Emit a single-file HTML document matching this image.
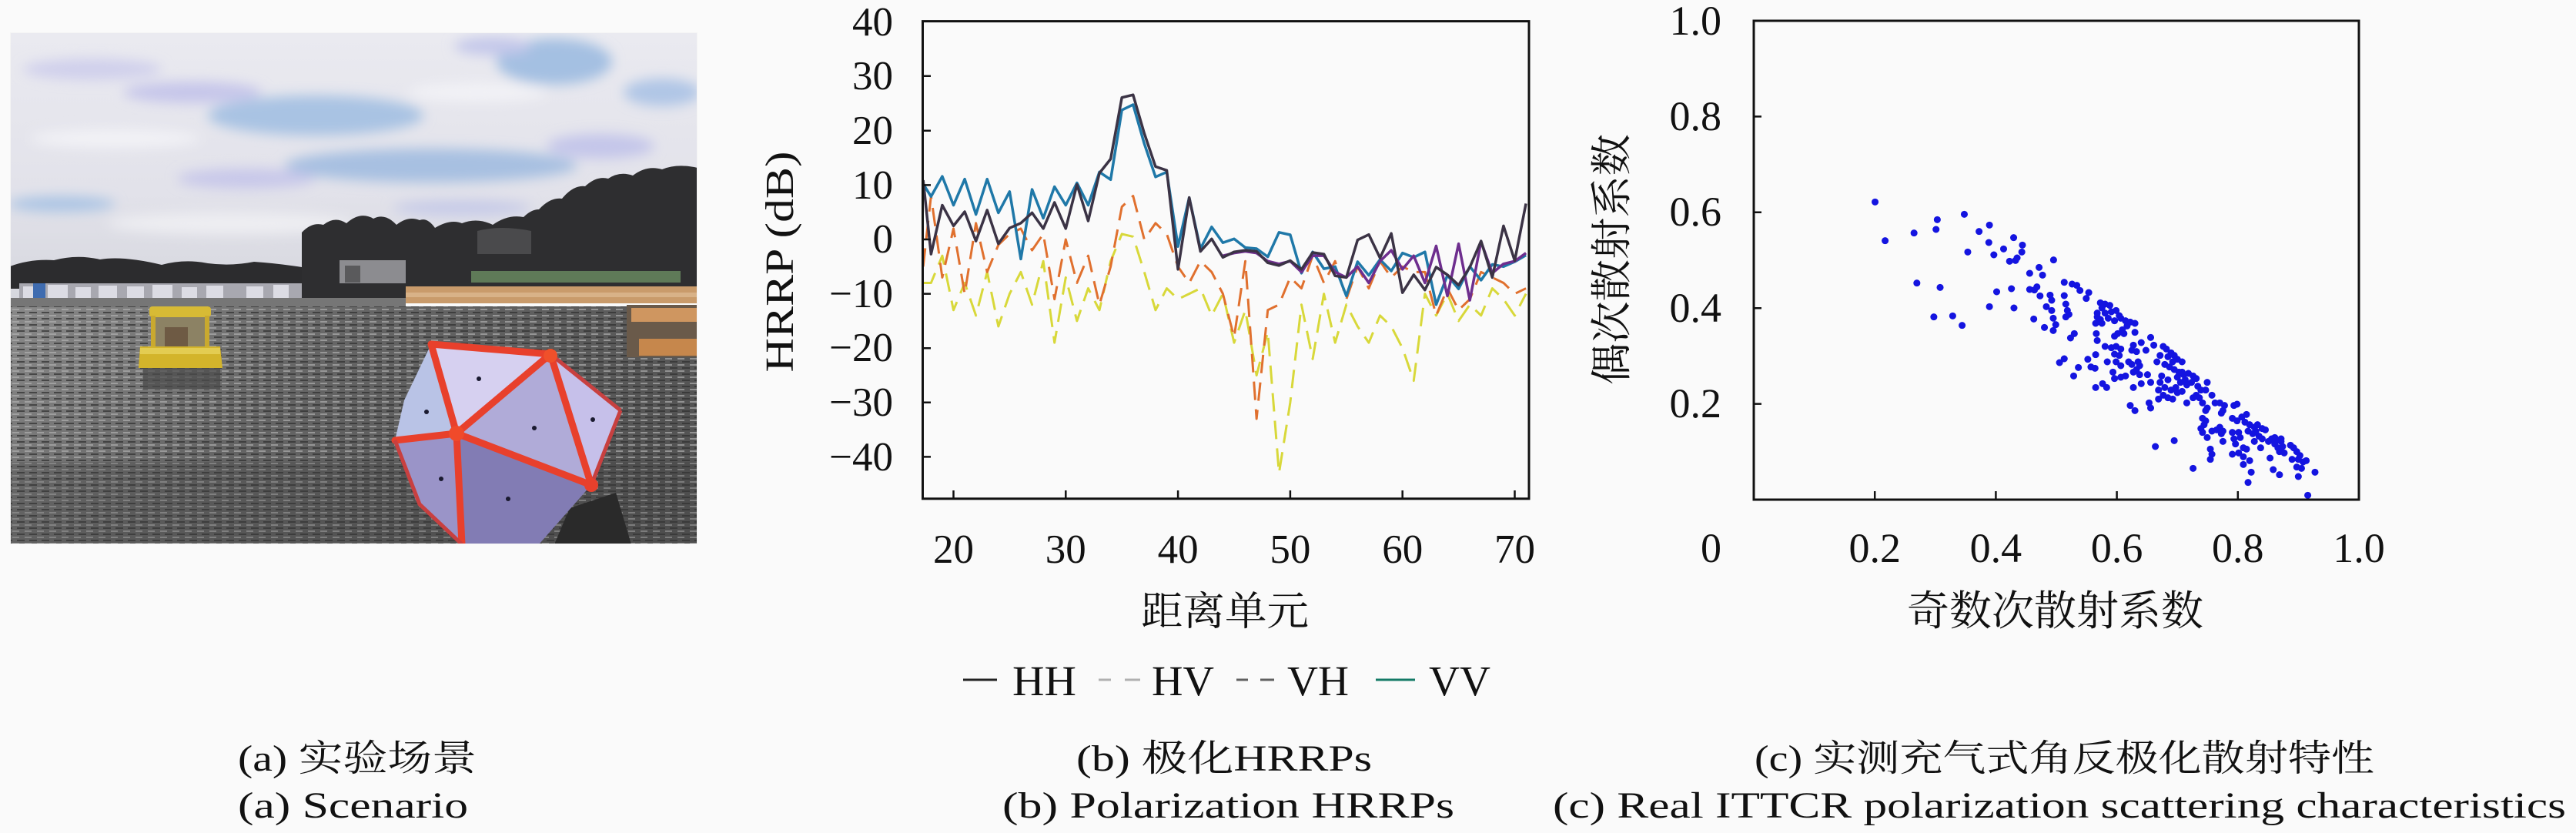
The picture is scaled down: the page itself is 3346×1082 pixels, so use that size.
<!DOCTYPE html>
<html>
<head>
<meta charset="utf-8">
<style>
html,body{margin:0;padding:0;background:#fafafa;}
body{width:3346px;height:1082px;overflow:hidden;}
svg{display:block;}
.t{font-family:"Liberation Serif","Noto Serif CJK SC",serif;fill:#111;}
</style>
</head>
<body>
<svg width="3346" height="1082" viewBox="0 0 3346 1082" xmlns="http://www.w3.org/2000/svg">
<defs>
  <clipPath id="photoClip"><rect x="13" y="42" width="893" height="665"/></clipPath>
  <clipPath id="plotClip"><rect x="1199" y="28" width="787" height="620"/></clipPath>
  <filter id="blur" x="-20%" y="-50%" width="140%" height="200%"><feGaussianBlur stdDeviation="8"/></filter>
  <filter id="blur2" x="-5%" y="-20%" width="110%" height="140%"><feGaussianBlur stdDeviation="2.5"/></filter>
  <linearGradient id="sky" x1="0" y1="0" x2="0" y2="1">
    <stop offset="0" stop-color="#eaeaf0"/>
    <stop offset="0.6" stop-color="#e2e2ea"/>
    <stop offset="1" stop-color="#d6d7de"/>
  </linearGradient>
  <linearGradient id="water" x1="0" y1="0" x2="1" y2="0.4">
    <stop offset="0" stop-color="#8a8a8a"/>
    <stop offset="0.45" stop-color="#666"/>
    <stop offset="1" stop-color="#545454"/>
  </linearGradient>
  <pattern id="rip" width="16" height="8" patternUnits="userSpaceOnUse">
    <path d="M0 2h9" stroke="#b4b4b4" stroke-width="1.6"/>
    <path d="M6 6h10" stroke="#303030" stroke-width="1.8"/>
  </pattern>
</defs>

<!-- ================= PHOTO ================= -->
<g clip-path="url(#photoClip)">
  <rect x="13" y="42" width="893" height="345" fill="url(#sky)"/>
  <g filter="url(#blur)">
    <ellipse cx="720" cy="80" rx="75" ry="30" fill="#a4c0e2"/>
    <ellipse cx="640" cy="60" rx="50" ry="12" fill="#c4c8ea"/>
    <ellipse cx="860" cy="120" rx="50" ry="18" fill="#b0c6e6"/>
    <ellipse cx="410" cy="150" rx="140" ry="26" fill="#a9c3e3"/>
    <ellipse cx="250" cy="120" rx="90" ry="14" fill="#c6c6ea"/>
    <ellipse cx="560" cy="215" rx="190" ry="22" fill="#a7c0e1"/>
    <ellipse cx="320" cy="232" rx="90" ry="13" fill="#c8c8ea"/>
    <ellipse cx="80" cy="265" rx="70" ry="10" fill="#aac4e4"/>
    <ellipse cx="780" cy="190" rx="70" ry="16" fill="#c4c6ea"/>
    <ellipse cx="150" cy="180" rx="110" ry="12" fill="#f2f2f6"/>
    <ellipse cx="620" cy="120" rx="90" ry="12" fill="#f2f2f6"/>
    <ellipse cx="300" cy="290" rx="160" ry="14" fill="#eeeef2"/>
    <ellipse cx="600" cy="270" rx="90" ry="10" fill="#c6cae8"/>
    <ellipse cx="120" cy="90" rx="90" ry="14" fill="#d0d0ec"/>
  </g>
  <!-- left hills -->
  <path d="M13,346 Q40,336 70,338 Q100,330 130,337 Q160,332 210,344 Q240,336 270,342 Q300,346 330,340 Q360,342 392,347 L392,375 L13,375 Z" fill="#2c2c2e"/>
  <!-- right trees -->
  <path d="M392,302 Q405,288 420,292 Q435,280 450,290 Q468,274 485,284 Q500,276 515,292 Q530,280 545,286 Q555,282 565,296 Q585,284 600,290 Q620,282 640,292 Q660,278 680,282 Q690,272 700,272 Q715,256 730,258 Q745,240 760,242 Q775,228 790,232 Q805,222 822,228 Q840,214 860,220 Q880,212 906,218 L906,390 L392,390 Z" fill="#2e2e30"/>
  <path d="M620,300 Q650,292 690,300 L690,330 L620,330 Z" fill="#4a4a4c"/>
  <rect x="441" y="338" width="86" height="30" fill="#8c8c90"/>
  <rect x="448" y="345" width="20" height="22" fill="#5a5a5c"/>
  <rect x="612" y="352" width="272" height="15" fill="#5f7a58"/>
  <!-- boats row left -->
  <rect x="25" y="368" width="367" height="30" fill="#a8a8b0"/>
  <g fill="#dcdce4">
    <rect x="30" y="372" width="22" height="16"/><rect x="62" y="370" width="26" height="18"/>
    <rect x="98" y="373" width="20" height="15"/><rect x="128" y="371" width="24" height="17"/>
    <rect x="165" y="372" width="22" height="16"/><rect x="198" y="370" width="26" height="18"/>
    <rect x="236" y="373" width="20" height="15"/><rect x="268" y="371" width="22" height="17"/>
    <rect x="320" y="372" width="22" height="16"/><rect x="355" y="370" width="20" height="18"/>
  </g>
  <rect x="43" y="368" width="16" height="28" fill="#3f6cb0"/>
  <rect x="25" y="392" width="367" height="6" fill="#4a4a4e"/>
  <!-- dock -->
  <rect x="527" y="372" width="379" height="22" fill="#c99b6b"/>
  <rect x="527" y="380" width="379" height="6" fill="#d8b288"/>
  <!-- water -->
  <rect x="13" y="398" width="893" height="309" fill="url(#water)"/>
  <rect x="13" y="387" width="514" height="12" fill="#767676"/>
  <rect x="13" y="398" width="893" height="309" fill="url(#rip)" opacity="0.8"/>
  <rect x="13" y="600" width="893" height="107" fill="#3a3a3a" opacity="0.25"/>
  <!-- right dock structure -->
  <rect x="814" y="396" width="92" height="68" fill="#6a5a4a"/>
  <rect x="820" y="400" width="86" height="18" fill="#cf9660"/>
  <rect x="830" y="440" width="76" height="22" fill="#c6874c"/>
  <!-- yellow boat -->
  <rect x="186" y="470" width="100" height="36" fill="#4a4a4a" opacity="0.7"/>
  <rect x="196" y="410" width="76" height="44" fill="#8c8264"/>
  <rect x="214" y="425" width="30" height="25" fill="#6e5a44"/>
  <rect x="194" y="398" width="80" height="14" rx="4" fill="#d7ba35"/>
  <rect x="196" y="410" width="6" height="42" fill="#c9a92e"/>
  <rect x="266" y="410" width="6" height="42" fill="#c9a92e"/>
  <path d="M182,450 L286,450 L289,478 L180,478 Z" fill="#d3b42b"/>
  <rect x="182" y="452" width="104" height="8" fill="#e3cc52"/>
  <!-- icosahedron -->
  <path d="M740,660 L800,640 L820,707 L720,707 Z" fill="#2a2a2a"/>
  <polygon points="560,447 715,460 593,563" fill="#d6d0f0"/>
  <polygon points="560,447 593,563 513,572 525,520" fill="#b9c3e6"/>
  <polygon points="715,460 768,630 593,563" fill="#b0abd8"/>
  <polygon points="715,460 806,533 768,630" fill="#c6c0ea"/>
  <polygon points="513,572 593,563 600,707 540,650" fill="#9a94c8"/>
  <polygon points="593,563 768,630 700,707 600,707" fill="#827cb4"/>
  <g stroke="#e8402c" stroke-width="9" stroke-linecap="round" fill="none">
    <path d="M560,447 L715,460"/>
    <path d="M560,447 L593,563"/>
    <path d="M715,460 L593,563"/>
    <path d="M513,572 L593,563"/>
    <path d="M593,563 L768,630"/>
    <path d="M715,460 L768,630"/>
    <path d="M593,563 L600,707"/>
  </g>
  <g stroke="#c84040" stroke-width="5" fill="none">
    <path d="M768,630 L806,533"/>
    <path d="M513,572 L545,655 L600,707"/>
    <path d="M715,460 L806,533"/>
  </g>
  <circle cx="593" cy="563" r="10" fill="#f04a2a"/>
  <circle cx="715" cy="462" r="9" fill="#f0502a"/>
  <circle cx="768" cy="630" r="9" fill="#e8402c"/>
  <g fill="#1a1a30">
    <circle cx="622" cy="492" r="3"/><circle cx="694" cy="556" r="3"/>
    <circle cx="554" cy="535" r="3"/><circle cx="770" cy="545" r="3"/>
    <circle cx="573" cy="622" r="3"/><circle cx="660" cy="648" r="3"/>
  </g>
  <rect x="13" y="42" width="893" height="665" fill="none" stroke="#f4f4f4" stroke-width="2"/>
</g>

<!-- ================= HRRP PLOT ================= -->
<g clip-path="url(#plotClip)">
  <g transform="translate(946.9,311) scale(14.58,-7.06)" fill="none" stroke-linejoin="round">
    <polyline vector-effect="non-scaling-stroke" stroke="#d8d83a" stroke-width="3" stroke-dasharray="24 12"
      points="17.3,-8 18,-8 19,-3 20,-13 21,-8 22,-14 23,-6 24,-16 25,-10 26,-6 27,-12 28,-4 29,-19 30,-7 31,-15 32,-9 33,-13 34,-4 35,1 36,0.5 37,-6 38,-13 39,-9 40,-11 41,-10 42,-9 43,-14 44,-10 45,-19 46,-13 47,-25 48,-17 49,-43 50,-30 51,-12 52,-22 53,-10 54,-19 55,-12 56,-16 57,-19 58,-14 59,-16 60,-20 61,-26 62,-10 63,-14 64,-10 65,-15 66,-12 67,-14 68,-9 69,-11 70,-14 71,-10"/>
    <polyline vector-effect="non-scaling-stroke" stroke="#e0702e" stroke-width="3" stroke-dasharray="24 12"
      points="17.3,-5 18,8 19,-7 20,2 21,-10 22,3 23,-6 24,-1 25,1 26,2 27,-2 28,1 29,-11 30,0 31,-8 32,-3 33,-12 34,-5 35,6 36,8 37,0 38,3 39,1 40,-5 41,-8 42,-4 43,-6 44,-10 45,-18 46,-4 47,-33 48,-13 49,-12 50,-7 51,-9 52,-3 53,-8 54,-4 55,-11 56,-5 57,-9 58,-4 59,-7 60,-5 61,-6 62,-6 63,-14 64,-9 65,-13 66,-11 67,-6 68,-7 69,-8 70,-10 71,-9"/>
    <polyline vector-effect="non-scaling-stroke" stroke="#1f78a8" stroke-width="3.5"
      points="17.3,10.2 18,7.9 19,11.6 20,6.3 21,11.1 22,4.6 23,11.1 24,4.9 25,8.8 26,-3.6 27,9.2 28,3.9 29,9.7 30,6.3 31,10.4 32,6.3 33,12.4 34,11 35,23.8 36,24.8 37,17.6 38,11.5 39,12.4 40,-1.3 41,7.7 42,-1.7 43,2.3 44,-0.6 45,0.1 46,-1.5 47,-1.7 48,-3.2 49,1.3 50,0.85 51,-6.2 52,-2.3 53,-5.4 54,-5 55,-10.4 56,-4.1 57,-6.6 58,-3.7 59,-5.8 60,-2.5 61,-3.3 62,-2.3 63,-12 64,-6.6 65,-9.1 66,-5 67,-7.5 68,-4.6 69,-5 70,-4.1 71,-2.9"/>
    <polyline vector-effect="non-scaling-stroke" stroke="#6e2e8e" stroke-width="3.5"
      points="44,-3 45,-2.5 46,-2.2 47,-2.5 48,-4 49,-4.5 50,-4 51,-6 52,-3 53,-3 54,-6 55,-7 56,-5 57,-8 58,-4 59,-2 60,-5.5 61,-3 62,-8 63,-1.2 64,-10.4 65,-0.8 66,-11.2 67,-0.4 68,-6.2 69,-4.5 70,-4 71,-2.5"/>
    <polyline vector-effect="non-scaling-stroke" stroke="#3b3345" stroke-width="3.5"
      points="17.3,10.9 18,-2.7 19,6.3 20,2.5 21,5.1 22,-0.3 23,5.4 24,-0.8 25,2.1 26,3 27,4.9 28,2 29,6.8 30,2 31,10.1 32,3.4 33,12.2 34,14.8 35,26.1 36,26.6 37,19.5 38,13.4 39,12.7 40,-5.5 41,7.7 42,-2.2 43,0.1 44,-3.3 45,-2.3 46,-2 47,-2.2 48,-4.3 49,-4.8 50,-3.9 51,-5.5 52,-2.4 53,-2.7 54,-6.7 55,-7 56,-0.1 57,0.9 58,-3.4 59,1.1 60,-9.8 61,-6.5 62,-9.3 63,-5.1 64,-6.5 65,-8.4 66,-5.1 67,-0.3 68,-7 69,2.5 70,-3.9 71,6.6"/>
  </g>
</g>
<!-- frame -->
<rect x="1198.5" y="27.6" width="787.5" height="620.2" fill="none" stroke="#111" stroke-width="3"/>
<g stroke="#111" stroke-width="2.5">
  <path d="M1238.5,648v-11 M1384.3,648v-11 M1530.1,648v-11 M1675.9,648v-11 M1821.7,648v-11 M1967.5,648v-11"/>
  <path d="M1199,98.8h10 M1199,169.8h10 M1199,240.4h10 M1199,311h10 M1199,381.6h10 M1199,452.2h10 M1199,522.8h10 M1199,593.4h10"/>
</g>
<g class="t" font-size="53" text-anchor="end">
  <text x="1160" y="46">40</text>
  <text x="1160" y="116">30</text>
  <text x="1160" y="187">20</text>
  <text x="1160" y="258">10</text>
  <text x="1160" y="328">0</text>
  <text x="1160" y="399">−10</text>
  <text x="1160" y="469">−20</text>
  <text x="1160" y="540">−30</text>
  <text x="1160" y="611">−40</text>
</g>
<g class="t" font-size="53" text-anchor="middle">
  <text x="1238.5" y="731">20</text>
  <text x="1384.3" y="731">30</text>
  <text x="1530.1" y="731">40</text>
  <text x="1675.9" y="731">50</text>
  <text x="1821.7" y="731">60</text>
  <text x="1967.5" y="731">70</text>
</g>
<text class="t" font-size="52" text-anchor="middle" transform="translate(1030,340) rotate(-90)" textLength="287" lengthAdjust="spacingAndGlyphs">HRRP (dB)</text>
<text class="t" font-size="52" x="1482" y="812" textLength="218" lengthAdjust="spacingAndGlyphs">距离单元</text>
<!-- legend -->
<g stroke-width="3">
  <path d="M1251,883h44" stroke="#222"/>
  <path d="M1427,883h16 M1461,883h20" stroke="#b0b0b0"/>
  <path d="M1606,883h15 M1637,883h18" stroke="#606060"/>
  <path d="M1787,883h51" stroke="#147a66"/>
</g>
<g class="t" font-size="55">
  <text x="1315" y="903" textLength="83" lengthAdjust="spacingAndGlyphs">HH</text>
  <text x="1496" y="903" textLength="81" lengthAdjust="spacingAndGlyphs">HV</text>
  <text x="1672" y="903" textLength="80" lengthAdjust="spacingAndGlyphs">VH</text>
  <text x="1856" y="903" textLength="80" lengthAdjust="spacingAndGlyphs">VV</text>
</g>

<!-- ================= SCATTER ================= -->
<g transform="translate(2420,240) scale(0.408163,0.33333)">
<path vector-effect="non-scaling-stroke" fill="none" stroke="#1414e0" stroke-width="9" stroke-linecap="round"
d="M38,67h.2M70,218h.2M162,188h.2M236,136h.2M232,174h.2M322,115h.2M333,262h.2M369,182h.2M402,157h.2M400,225h.2M416,273h.2M447,250h.2M479,206h.2M507,235h.2M505,262h.2M490,285h.2M466,298h.2M485,295h.2M606,293h.2
M171,383h.2M245,400h.2M225,515h.2M285,511h.2M315,548h.2M402,475h.2M425,417h.2M472,405h.2M480,480h.2M530,345h.2M560,322h.2M571,352h.2M530,408h.2M553,398h.2M545,410h.2M563,433h.2M543,523h.2M577,556h.2M605,568h.2M613,545h.2M595,430h.2M600,450h.2M583,475h.2M600,490h.2M605,520h.2M640,380h.2M665,387h.2M680,392h.2M690,412h.2M718,420h.2M710,443h.2M640,432h.2M645,465h.2M650,490h.2M655,505h.2M645,515h.2M660,597h.2M672,580h.2M625,693h.2M640,678h.2M670,745h.2M685,712h.2M715,680h.2M725,710h.2M738,715h.2M740,662h.2M742,580h.2M745,607h.2M740,790h.2M762,775h.2M775,790h.2M777,690h.2
M755,460h.2M770,465h.2M785,470h.2M760,480h.2M745,500h.2M770,500h.2M790,495h.2M805,490h.2M815,510h.2M740,540h.2M755,525h.2M780,520h.2M800,530h.2M820,520h.2M835,530h.2M850,535h.2M865,540h.2M840,550h.2M825,565h.2M810,580h.2M800,590h.2M865,575h.2M830,580h.2M745,515h.2M760,540h.2
M770,630h.2M790,635h.2M805,630h.2M820,640h.2M800,660h.2M815,665h.2M860,625h.2M855,645h.2M870,650h.2M885,615h.2M900,645h.2M915,595h.2M925,625h.2M805,690h.2M820,705h.2M845,690h.2M855,700h.2M875,690h.2M880,705h.2M870,720h.2M860,730h.2M880,740h.2M795,730h.2M800,755h.2M820,750h.2M835,745h.2M860,790h.2M885,775h.2M905,740h.2M915,770h.2M850,860h.2M865,880h.2M910,850h.2M915,870h.2
M955,630h.2M965,640h.2M980,655h.2M990,665h.2M1000,680h.2M1015,690h.2M970,670h.2M985,690h.2M945,665h.2M935,690h.2M960,700h.2M975,710h.2M990,720h.2M1005,730h.2M1020,740h.2M1035,735h.2M1050,745h.2M1060,755h.2M1045,770h.2M1030,780h.2M1010,770h.2M995,790h.2M980,800h.2M960,790h.2M945,770h.2M940,800h.2M955,820h.2M970,830h.2M985,835h.2M940,835h.2M1000,810h.2M1015,805h.2M1065,785h.2M1075,800h.2M1090,800h.2M1095,770h.2M1070,830h.2M1080,850h.2M1095,870h.2M1090,880h.2M1030,850h.2M1050,830h.2M1060,820h.2M1015,730h.2M1025,760h.2M950,745h.2M970,760h.2M1000,750h.2
M1110,820h.2M1120,850h.2M1135,850h.2M1150,860h.2M1180,860h.2M1190,855h.2M1140,890h.2M1145,880h.2M1175,910h.2M1190,920h.2M1205,905h.2M1220,895h.2M1215,925h.2M1230,935h.2M1245,945h.2M1255,935h.2M1270,950h.2M1280,955h.2M1225,960h.2M1240,970h.2M1260,980h.2M1270,990h.2M1080,910h.2M1090,920h.2M1085,935h.2M1075,950h.2M1080,965h.2M1095,985h.2M1110,960h.2M1125,955h.2M1135,945h.2M1145,960h.2M1140,970h.2M1145,1000h.2M1175,965h.2M1195,965h.2M1200,985h.2M1180,990h.2M1185,1010h.2M1210,1025h.2M1220,1030h.2M1175,1050h.2M1195,1045h.2M1210,1060h.2M1210,1090h.2M1230,1075h.2M1235,1120h.2M1225,1160h.2M1105,1030h.2M1110,1050h.2M1105,1070h.2M1265,1025h.2M1290,1000h.2M1300,990h.2M1310,985h.2M1320,995h.2M1330,1000h.2M1310,1010h.2M1320,1025h.2M1325,1040h.2M1335,1020h.2M1295,1065h.2M1305,1110h.2M1325,1130h.2M1360,1015h.2M1370,1025h.2M1380,1040h.2M1390,1055h.2M1400,1080h.2M1410,1075h.2M1385,1070h.2M1365,1070h.2M1380,1100h.2M1395,1105h.2M1385,1137h.2M1438,1120h.2M1415,1210h.2M1050,1105h.2M930,1020h.2M990,997h.2M1245,1000h.2M1330,990h.2M1340,1045h.2M1250,960h.2"/>
</g>
<rect x="2278" y="27" width="786" height="622" fill="none" stroke="#111" stroke-width="3"/>
<g stroke="#111" stroke-width="2.5">
  <path d="M2435.2,649v-11 M2592.4,649v-11 M2749.6,649v-11 M2906.8,649v-11"/>
  <path d="M2278,524.6h10 M2278,400.2h10 M2278,275.8h10 M2278,151.4h10"/>
</g>
<g class="t" font-size="54" text-anchor="end">
  <text x="2236" y="45">1.0</text>
  <text x="2236" y="169">0.8</text>
  <text x="2236" y="293">0.6</text>
  <text x="2236" y="418">0.4</text>
  <text x="2236" y="542">0.2</text>
</g>
<g class="t" font-size="54" text-anchor="middle">
  <text x="2222.5" y="730">0</text>
  <text x="2435.2" y="730">0.2</text>
  <text x="2592.4" y="730">0.4</text>
  <text x="2749.6" y="730">0.6</text>
  <text x="2906.8" y="730">0.8</text>
  <text x="3064" y="730">1.0</text>
</g>
<text class="t" font-size="54" text-anchor="middle" transform="translate(2112,337) rotate(-90)" textLength="326" lengthAdjust="spacingAndGlyphs">偶次散射系数</text>
<text class="t" font-size="54" x="2477" y="812" textLength="385" lengthAdjust="spacingAndGlyphs">奇数次散射系数</text>

<!-- ================= CAPTIONS ================= -->
<g class="t" font-size="48">
  <text x="309" y="1001" textLength="310" lengthAdjust="spacingAndGlyphs">(a) 实验场景</text>
  <text x="309" y="1062" textLength="299" lengthAdjust="spacingAndGlyphs">(a) Scenario</text>
  <text x="1398" y="1001" textLength="384" lengthAdjust="spacingAndGlyphs">(b) 极化HRRPs</text>
  <text x="1302" y="1062" textLength="587" lengthAdjust="spacingAndGlyphs">(b) Polarization HRRPs</text>
  <text x="2279" y="1001" textLength="805" lengthAdjust="spacingAndGlyphs">(c) 实测充气式角反极化散射特性</text>
  <text x="2017" y="1062" textLength="1316" lengthAdjust="spacingAndGlyphs">(c) Real ITTCR polarization scattering characteristics</text>
</g>
</svg>
</body>
</html>
